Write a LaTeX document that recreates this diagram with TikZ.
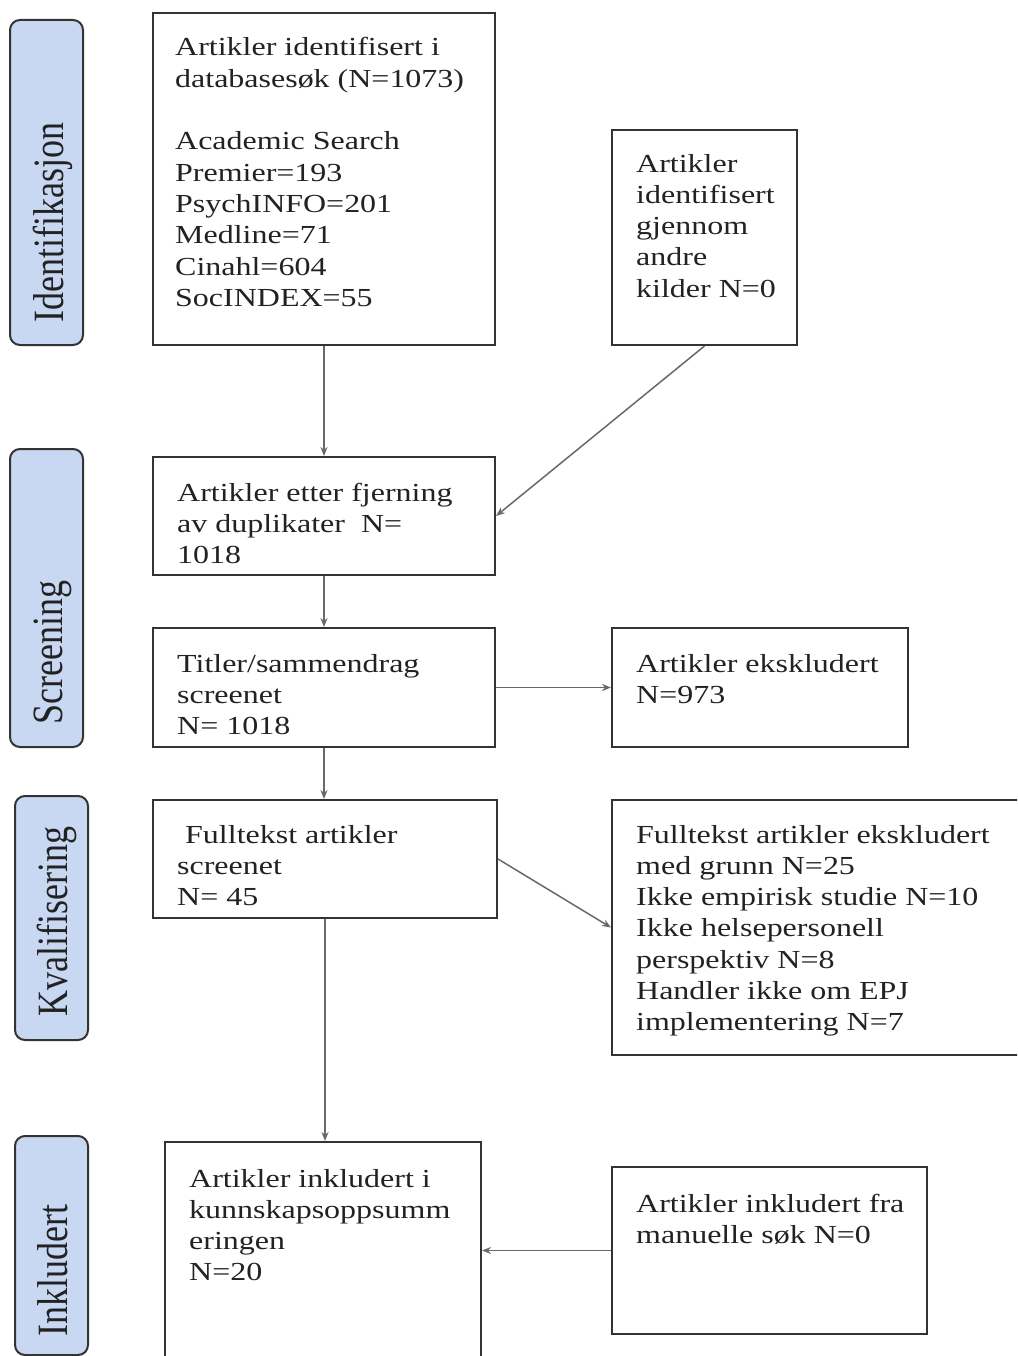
\documentclass[tikz,border=0pt]{standalone}
\usepackage{fontspec}
\setmainfont{Liberation Serif}[FakeStretch=1.23]
\newfontfamily\lblfont{Liberation Serif}
\usetikzlibrary{arrows.meta}
\definecolor{lblfill}{RGB}{200,216,242}
\definecolor{edgec}{RGB}{51,51,51}
\definecolor{arrc}{RGB}{105,105,105}
\definecolor{ink}{RGB}{34,34,34}
\tikzset{
  box/.style={draw=edgec, line width=2pt, inner sep=0pt, fill=white},
  lbl/.style={draw=edgec, line width=2pt, rounded corners=10pt, fill=lblfill, inner sep=0pt},
  lbltext/.style={rotate=90, anchor=base west, inner sep=0pt, text=ink, font=\lblfont\fontsize{36}{40}\selectfont},
  txt/.style={anchor=base west, align=left, inner sep=0pt, text=ink, font=\fontsize{26}{31.3}\selectfont},
  conn/.style={draw=arrc, line width=1.5pt, -{Stealth[length=9pt,width=7pt]}},
}
\begin{document}
\begin{tikzpicture}[x=1pt,y=-1pt]
\useasboundingbox (0,0) rectangle (1017,1356);
\clip (0,0) rectangle (1017,1356);
\fill[white] (0,0) rectangle (1017,1356);

% stage labels
\node[lbl, minimum width=73, minimum height=325] (l1) at (46.5,182.5) {};
\node[lbl, minimum width=73, minimum height=298] (l2) at (46.5,598) {};
\node[lbl, minimum width=73, minimum height=244] (l3) at (51.5,918) {};
\node[lbl, minimum width=73, minimum height=219] (l4) at (51.5,1245.5) {};
\node[lbltext] (lt1) at (63.5,323) {\scalebox{1}[1.2]{Identifikasjon}};
\node[lbltext] (lt2) at (62.5,725) {\scalebox{1}[1.2]{Screening}};
\node[lbltext] (lt3) at (67.5,1017) {\scalebox{1}[1.2]{Kvalifisering}};
\node[lbltext] (lt4) at (67.5,1337) {\scalebox{1}[1.2]{Inkludert}};

% boxes
\node[box, minimum width=342, minimum height=332] (b1) at (324,179) {};
\node[box, minimum width=185, minimum height=215] (b2) at (704.5,237.5) {};
\node[box, minimum width=342, minimum height=118] (b3) at (324,516) {};
\node[box, minimum width=342, minimum height=119] (b4) at (324,687.5) {};
\node[box, minimum width=296, minimum height=119] (b5) at (760,687.5) {};
\node[box, minimum width=344, minimum height=118] (b6) at (325,859) {};
\node[box, minimum width=418, minimum height=255] (b7) at (821,927.5) {};
\node[box, minimum width=316, minimum height=218] (b8) at (323,1251) {};
\node[box, minimum width=315, minimum height=167] (b9) at (769.5,1250.5) {};

% texts (anchored at the baseline of their last line)
\node[txt] (t1) at (175,306.4) {Artikler identifisert i\\databasesøk (N=1073)\\[31.3pt]Academic Search\\Premier=193\\PsychINFO=201\\Medline=71\\Cinahl=604\\SocINDEX=55};
\node[txt] (t2) at (636,297.2) {Artikler\\identifisert\\gjennom\\andre\\kilder N=0};
\node[txt] (t3) at (177,563.6) {Artikler etter fjerning\\av duplikater\ \ N=\\1018};
\node[txt] (t4) at (177,734.6) {Titler/sammendrag\\screenet\\N= 1018};
\node[txt] (t5) at (636,703.3) {Artikler ekskludert\\N=973};
\node[txt] (t6) at (177,905.6) {\hspace{8pt}Fulltekst artikler\\screenet\\N= 45};
\node[txt] (t7) at (636,1030.8) {Fulltekst artikler ekskludert\\med grunn N=25\\Ikke empirisk studie N=10\\Ikke helsepersonell\\perspektiv N=8\\Handler ikke om EPJ\\implementering N=7};
\node[txt] (t8) at (189,1280.9) {Artikler inkludert i\\kunnskapsoppsumm\\eringen\\N=20};
\node[txt] (t9) at (636,1243.3) {Artikler inkludert fra\\manuelle søk N=0};

% connectors
\draw[conn] (b1.south) -- (b3.north);
\draw[conn] (b2.south) -- (b3.east);
\draw[conn] (b3.south) -- (b4.north);
\draw[conn] (b4.east) -- (b5.west);
\draw[conn] (b4.south) -- (b4.south |- b6.north);
\draw[conn] (b6.east) -- (b7.west);
\draw[conn] (b6.south) -- (b6.south |- b8.north);
\draw[conn] (b9.west) -- (b9.west -| b8.east);
\end{tikzpicture}
\end{document}
